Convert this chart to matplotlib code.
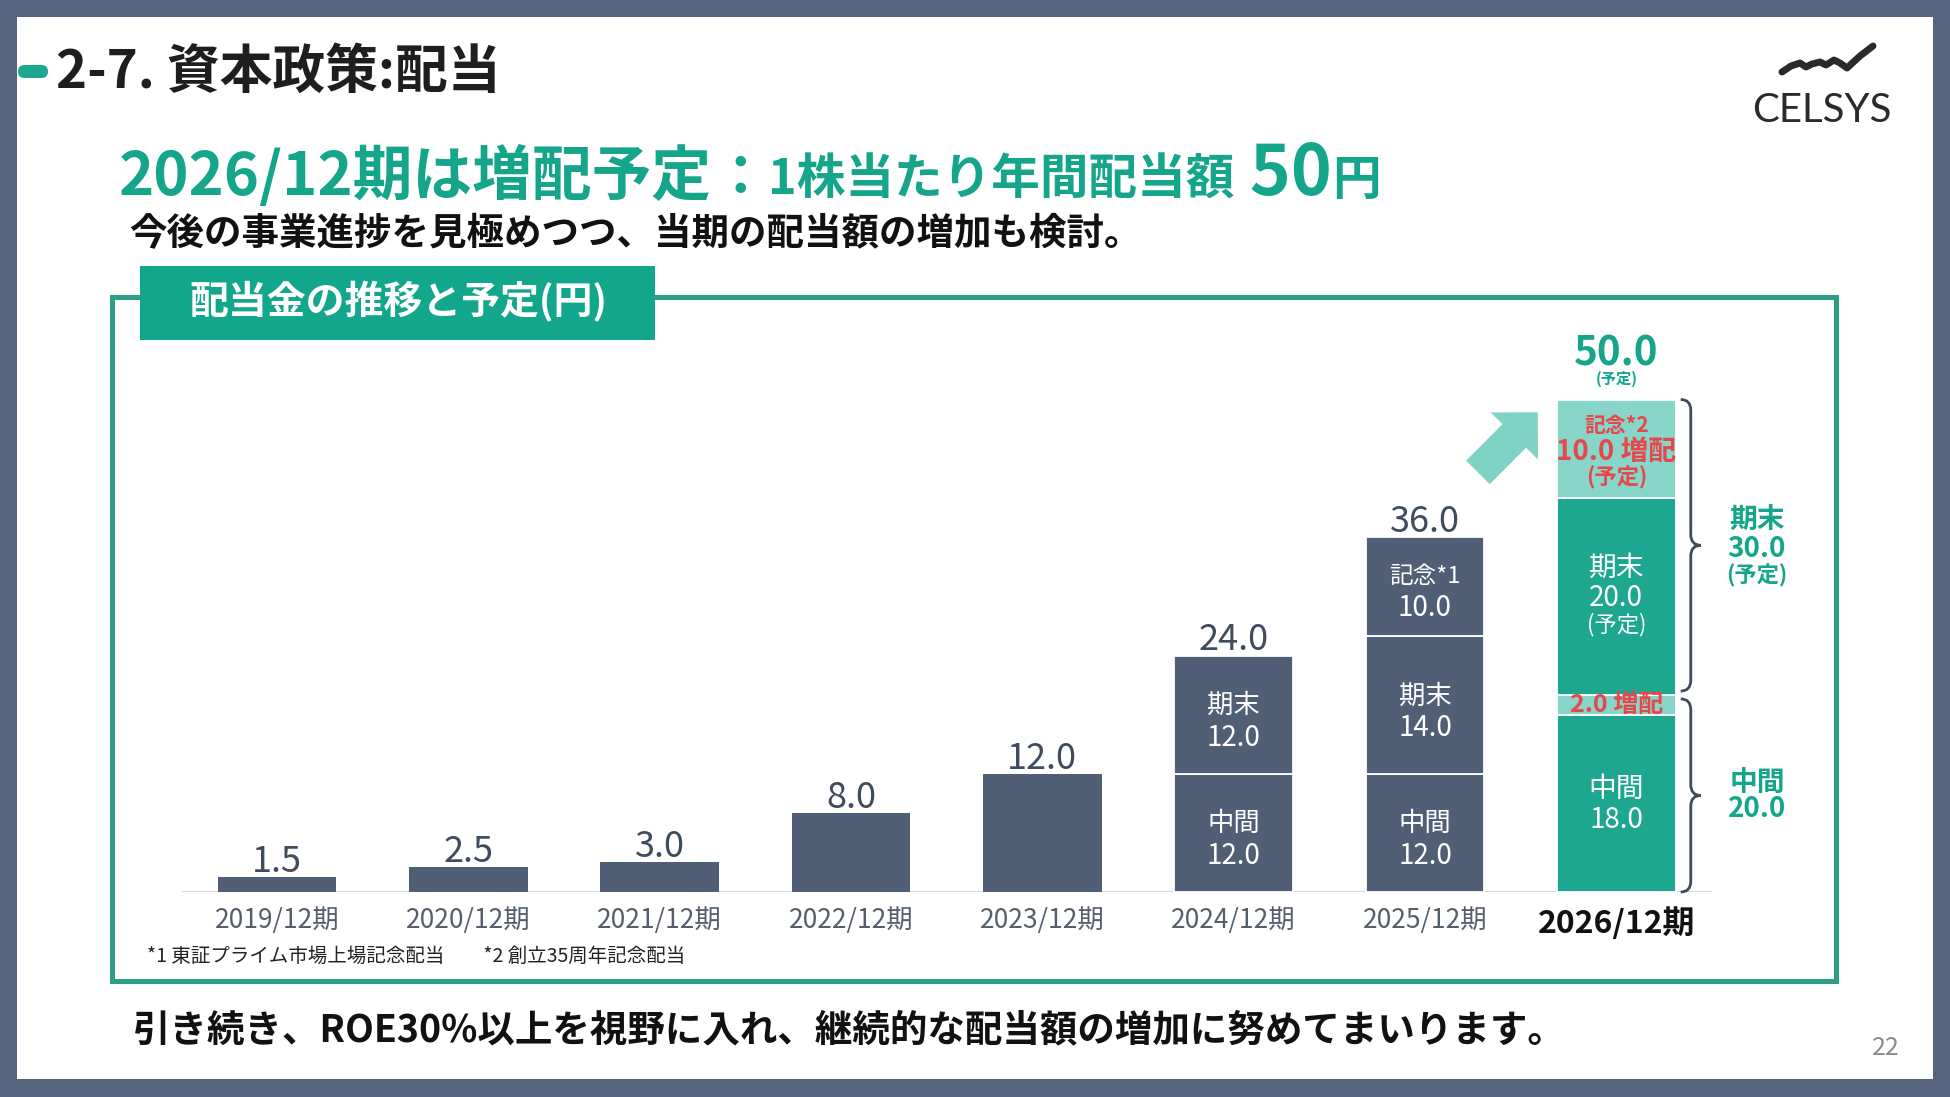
import matplotlib
matplotlib.use('Agg')
import matplotlib.pyplot as plt
from matplotlib.patches import Rectangle, FancyBboxPatch, FancyArrowPatch, PathPatch
from matplotlib.path import Path

plt.rcParams['font.family'] = ['Noto Sans CJK JP', 'DejaVu Sans']

# -------- data
periods    = ['2019/12期', '2020/12期', '2021/12期', '2022/12期',
              '2023/12期', '2024/12期', '2025/12期', '2026/12期']
annual     = [1.5, 2.5, 3.0, 8.0, 12.0, 24.0, 36.0, 50.0]
interim    = [0, 0, 0, 0, 0, 12.0, 12.0, 18.0]    # 中間
interim_up = [0, 0, 0, 0, 0, 0, 0, 2.0]           # 中間 増配
year_end   = [0, 0, 0, 0, 0, 12.0, 14.0, 20.0]    # 期末
memorial   = [0, 0, 0, 0, 0, 0, 10.0, 10.0]       # 記念
plan       = [False] * 7 + [True]
note_idx   = ['', '', '', '', '', '', '*1', '*2']

# -------- colours
SLATE = '#505e76'
SLATE_TXT = '#3f4b5e'
TEAL = '#1ea790'
LTEAL = '#88d6ca'
RED = '#e5474b'
TEAL_TXT = '#14a58b'

fig = plt.figure(figsize=(19.5, 10.97), dpi=100, facecolor='#56657d')

# -------- slide background (pixel coordinates)
bg = fig.add_axes([0, 0, 1, 1])
bg.set_xlim(0, 1950)
bg.set_ylim(1097, 0)
bg.axis('off')
bg.add_patch(Rectangle((17, 17), 1916, 1062, facecolor='white', edgecolor='none'))

bg.add_patch(FancyBboxPatch((18, 65), 30, 13, boxstyle='round,pad=0,rounding_size=6.5',
                            facecolor=TEAL, edgecolor='none'))
bg.text(56, 72, '2-7. 資本政策:配当', fontsize=38, fontweight='bold', color='#1e1e1e',
        ha='left', va='center')

# logo
wx = [1782, 1791, 1800, 1806, 1812, 1820, 1826, 1834, 1840, 1847, 1860, 1873]
wy = [72, 66, 63, 67, 64, 62, 65, 60, 63, 68, 56, 46]
bg.plot(wx, wy, color='#2a2a2a', lw=5, solid_capstyle='round', solid_joinstyle='round')
bg.text(1822, 110, 'CELSYS', fontsize=29, family=['Lato', 'DejaVu Sans'],
        color='#2a2a2a', ha='center', va='center')

# headline in pieces
r = fig.canvas.get_renderer()
x = 119
for s, size in [('2026/12期は増配予定', 43), ('：', 40), ('1株当たり年間配当額', 35),
                (' 50', 50), ('円', 35)]:
    t = bg.text(x, 195, s, fontsize=size, fontweight='bold', color=TEAL_TXT,
                ha='left', va='baseline')
    x += t.get_window_extent(r).width

bg.text(129, 234, '今後の事業進捗を見極めつつ、当期の配当額の増加も検討。', fontsize=27,
        fontweight='bold', color='#111111', ha='left', va='center')

# frame and tab
bg.add_patch(Rectangle((112, 297), 1724, 684, fill=False, edgecolor='#2c9d86', lw=3.6))
bg.add_patch(Rectangle((140, 266), 515, 74, facecolor='#12a68c', edgecolor='none'))
bg.text(189, 302, '配当金の推移と予定(円)', fontsize=28, fontweight='bold', color='white',
        ha='left', va='center')

bg.text(147, 956, '*1 東証プライム市場上場記念配当　　*2 創立35周年記念配当', fontsize=14,
        color='#222222', ha='left', va='center')
bg.text(133, 1030, '引き続き、ROE30%以上を視野に入れ、継続的な配当額の増加に努めてまいります。',
        fontsize=27, fontweight='bold', color='#111111', ha='left', va='center')
bg.text(1886, 1048, '22', fontsize=18, color='#8a8a8a', ha='center', va='center')

# -------- chart
ax = fig.add_axes([0.0931, 0.18687, 0.7848, 0.5118])
ax.patch.set_alpha(0)
ax.set_xlim(-0.5, 7.5)
ax.set_ylim(0, 57)
for sp in ax.spines.values():
    sp.set_visible(False)
ax.set_yticks([])
ax.axhline(0, color='#d6d6d6', lw=2, zorder=1)

W = 0.62
for i in range(len(periods)):
    parts = [interim[i], interim_up[i], year_end[i], memorial[i]]
    if sum(parts) == 0:
        ax.bar(i, annual[i], W, color=SLATE, zorder=2)
        continue
    cols = [TEAL, LTEAL, TEAL, LTEAL] if plan[i] else [SLATE] * 4
    b = 0
    for v, c in zip(parts, cols):
        if v > 0:
            ax.bar(i, v, W, bottom=b, color=c, edgecolor='white', lw=1.3, zorder=2)
        b += v


def lab(xy, s, dy, size, color, weight='normal'):
    ax.annotate(s, xy, xytext=(0, dy), textcoords='offset points', ha='center', va='center',
                fontsize=size, fontweight=weight, color=color, zorder=3, annotation_clip=False)


# total labels
for i in range(len(periods)):
    if plan[i]:
        lab((i, annual[i]), f'{annual[i]:.1f}', 33, 29, TEAL_TXT, 'bold')
        lab((i, annual[i]), '(予定)', 15, 11, TEAL_TXT, 'bold')
    else:
        lab((i, annual[i]), f'{annual[i]:.1f}', 11, 26, SLATE_TXT)

# segment labels
for i in range(len(periods)):
    if interim[i] == 0:
        continue
    p = (i, interim[i] / 2)
    if plan[i]:
        lab(p, '中間', 10, 20, 'white')
        lab(p, f'{interim[i]:.1f}', -12, 20, 'white')
    else:
        lab(p, '中間', 6.5, 19, 'white')
        lab(p, f'{interim[i]:.1f}', -16.5, 20, 'white')
    b = interim[i] + interim_up[i]
    if interim_up[i] > 0:
        lab((i, interim[i] + interim_up[i] / 2), f'{interim_up[i]:.1f} 増配', 0, 18, RED, 'bold')
    p = (i, b + year_end[i] / 2)
    if plan[i]:
        lab(p, '期末', 21, 20, 'white')
        lab(p, f'{year_end[i]:.1f}', -1, 20, 'white')
        lab(p, '(予定)', -20, 16, 'white')
    else:
        lab(p, '期末', 6.5, 19, 'white')
        lab(p, f'{year_end[i]:.1f}', -16.5, 20, 'white')
    b += year_end[i]
    if memorial[i] > 0:
        p = (i, b + memorial[i] / 2)
        if plan[i]:
            lab(p, '記念' + note_idx[i], 17, 15, RED, 'bold')
            lab(p, f'{memorial[i]:.1f} 増配', -2, 20, RED, 'bold')
            lab(p, '(予定)', -21, 16, RED, 'bold')
        else:
            lab(p, '記念' + note_idx[i], 7.5, 17, 'white')
            lab(p, f'{memorial[i]:.1f}', -15.5, 20, 'white')


# braces next to the planned bar
def brace(ax, x, y0, y1, w, r):
    ym = (y0 + y1) / 2
    h = x + w * 0.5
    verts = [(x, y1), (h, y1), (h, y1 - r), (h, ym + r), (h, ym), (x + w, ym),
             (h, ym), (h, ym - r), (h, y0 + r), (h, y0), (x, y0)]
    codes = [Path.MOVETO, Path.CURVE3, Path.CURVE3, Path.LINETO, Path.CURVE3, Path.CURVE3,
             Path.CURVE3, Path.CURVE3, Path.LINETO, Path.CURVE3, Path.CURVE3]
    ax.add_patch(PathPatch(Path(verts, codes), fill=False, edgecolor=SLATE_TXT, lw=2,
                           clip_on=False, zorder=3))
    return ym


k = len(periods) - 1
lo = interim[k] + interim_up[k]
bx = k + W / 2 + 0.027
m1 = brace(ax, bx, lo + 0.4, annual[k], 0.105, 1.1)
m2 = brace(ax, bx, 0, lo - 0.4, 0.105, 1.1)
lab((7.735, m1), '期末', 18, 20, TEAL_TXT, 'bold')
lab((7.735, m1), f'{year_end[k] + memorial[k]:.1f}', -3, 20, TEAL_TXT, 'bold')
lab((7.735, m1), '(予定)', -22, 16, TEAL_TXT, 'bold')
lab((7.735, m2), '中間', 9, 20, TEAL_TXT, 'bold')
lab((7.735, m2), f'{lo:.1f}', -10, 20, TEAL_TXT, 'bold')

# growth arrow
ax.add_patch(FancyArrowPatch((6.277, 42.6), (6.59, 48.7),
                             arrowstyle='simple,head_width=48,head_length=24,tail_width=24',
                             mutation_scale=1, color='#7fd3c5', lw=0, shrinkA=0, shrinkB=0,
                             zorder=2))

# x tick labels
ax.set_xticks(range(len(periods)), periods)
ax.tick_params(axis='x', length=0, pad=11)
for j, t in enumerate(ax.get_xticklabels()):
    if plan[j]:
        t.set_fontsize(23)
        t.set_fontweight('bold')
        t.set_color('#111111')
    else:
        t.set_fontsize(19)
        t.set_color('#555e6b')

fig.savefig('out.png', dpi=100, facecolor=fig.get_facecolor())
